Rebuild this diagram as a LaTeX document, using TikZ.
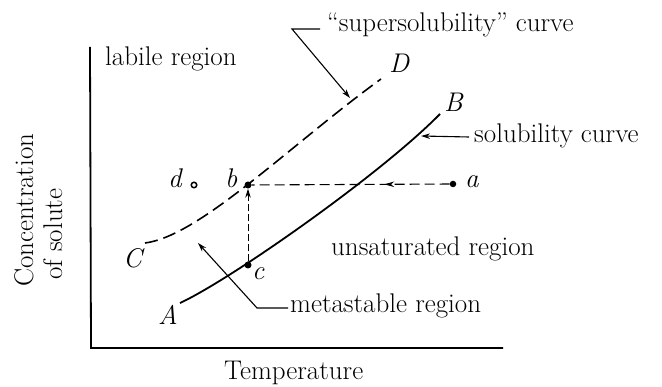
\documentclass[tikz,border=0pt]{standalone}
\usepackage{fontspec}
\usetikzlibrary{arrows.meta,decorations.markings}
\newcommand\lblfont{\fontsize{27}{32}\selectfont}
\begin{document}
\begin{tikzpicture}[x=1pt,y=-1pt,
  txt/.style={font=\lblfont, inner sep=0pt, anchor=base west},
  ptlbl/.style={font=\lblfont\itshape, inner sep=0pt, anchor=base west},
  axis/.style={line width=1.8pt},
  tip/.style={-{Stealth[length=9pt,width=5.5pt]}},
  leader/.style={line width=1.1pt},
  dot/.style={circle, fill, inner sep=0pt, minimum size=7pt}]
\useasboundingbox (0,0) rectangle (662,387);
% axes
\coordinate (ytop) at (90,47);
\coordinate (orig) at (91,348);
\coordinate (xend) at (503,348);
\draw[axis] (ytop) -- (orig) -- (xend);
% supersolubility curve (dashed) C--D
\coordinate (Cs) at (145,243);
\coordinate (De) at (381,79);
\draw[line width=1.6pt, dash pattern=on 13pt off 6pt] (Cs) .. controls (200,236) and (290,145) .. (De);
% solubility curve A--B
\coordinate (As) at (180,303);
\coordinate (Be) at (440,114);
\draw[line width=1.8pt] (As) .. controls (230,280) and (380,175) .. (Be);
% points
\node[dot] (b) at (248,185) {};
\node[dot] (c) at (248,265) {};
\node[dot, minimum size=6.5pt] (a) at (453,184) {};
\node[circle, draw, line width=1.5pt, inner sep=0pt, minimum size=5.5pt] (d) at (194,185) {};
% paths between points
\draw[line width=1.1pt, dash pattern=on 10pt off 5pt, postaction={decorate},
  decoration={markings, mark=at position 0.33 with {\arrow{Stealth[length=10pt,width=5.5pt]}}}] (a) -- (b);
\draw[line width=0.9pt, dash pattern=on 7pt off 3pt, tip] (c) -- (b);
% point labels
\node[ptlbl] (lD) at (389,73) {D};
\node[ptlbl] (lB) at (444,112) {B};
\node[ptlbl] (lC) at (123,268) {C};
\node[ptlbl] (lA) at (158,325) {A};
\node[ptlbl] (la) at (465,188) {a};
\node[ptlbl] (lb) at (225,188) {b};
\node[ptlbl] (lc) at (252,280) {c};
\node[ptlbl] (ld) at (168,188) {d};
% texts
\node[txt] (lab) at (105,66) {labile region};
\node[txt] (uns) at (331,256) {unsaturated region};
\node[txt] (met) at (290,313) {metastable region};
\node[txt] (sol) at (474,143) {solubility curve};
\node[txt] (sup) at (327,32) {``supersolubility'' curve};
\node[txt] (temp) at (224,380) {Temperature};
\node[txt, rotate=90] (conc) at (33,287) {Concentration};
\node[txt, rotate=90] (ofs) at (62,280) {of solute};
% leaders
\coordinate (s1) at (320,29);
\coordinate (s2) at (292,29);
\coordinate (s3) at (350,98);
\draw[leader, tip] (s1) -- (s2) -- (s3);
\coordinate (l1) at (469,137);
\coordinate (l2) at (421,136);
\draw[leader, tip] (l1) -- (l2);
\coordinate (m1) at (288,308);
\coordinate (m2) at (257,308);
\coordinate (m3) at (198,243);
\draw[leader, tip] (m1) -- (m2) -- (m3);
\end{tikzpicture}
\end{document}
